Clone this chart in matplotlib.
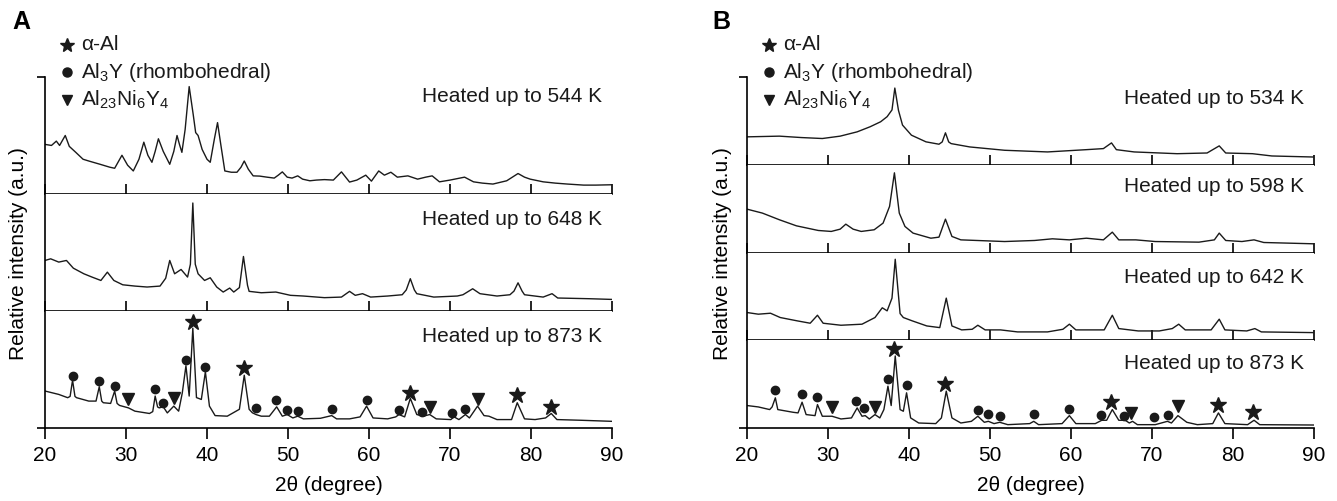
import matplotlib
matplotlib.use('Agg')
import matplotlib.pyplot as plt
from matplotlib.lines import Line2D
import numpy as np

plt.rcParams['font.family'] = ['Liberation Sans', 'DejaVu Sans']
plt.rcParams['mathtext.fontset'] = 'custom'
plt.rcParams['mathtext.rm'] = 'Liberation Sans'
plt.rcParams['mathtext.it'] = 'Liberation Sans:italic'

# ---- data: (2theta, relative intensity in % of panel height)
a544 = np.array([(20.0, 42.4), (20.8, 41.5), (21.4, 45.2), (21.8, 41.5), (22.5, 50.0), (23.0, 40.7),
                 (23.8, 35.6), (24.7, 29.7), (25.5, 28.0), (26.8, 25.4), (28.0, 22.9), (28.6, 22.0),
                 (29.5, 33.1), (30.2, 24.6), (30.9, 19.7), (31.6, 29.7), (32.2, 44.3), (32.7, 33.1),
                 (33.2, 27.1), (33.6, 36.4), (34.0, 47.2), (34.6, 36.4), (35.4, 25.4), (35.9, 36.4),
                 (36.3, 50.0), (36.6, 42.4), (36.9, 35.6), (37.3, 55.1), (37.8, 91.8), (38.3, 67.8),
                 (38.6, 52.5), (38.9, 50.0), (39.4, 38.1), (40.0, 29.7), (40.4, 27.1), (40.9, 46.6),
                 (41.3, 61.0), (41.7, 42.4), (42.2, 19.7), (43.0, 18.6), (43.7, 18.6), (44.2, 22.9),
                 (44.6, 28.2), (45.1, 21.2), (45.7, 15.5), (46.5, 15.3), (47.4, 14.4), (48.3, 13.6),
                 (48.8, 16.1), (49.3, 18.9), (49.9, 14.4), (50.5, 13.6), (51.2, 15.5), (51.8, 12.7),
                 (52.7, 11.3), (53.5, 11.9), (54.5, 12.3), (55.6, 11.9), (56.6, 18.9), (57.6, 10.2),
                 (58.5, 11.9), (59.6, 16.1), (60.3, 11.0), (61.2, 19.7), (61.9, 16.1), (62.7, 18.6),
                 (63.5, 14.4), (64.8, 15.5), (66.0, 12.7), (67.0, 14.4), (67.8, 15.5), (68.7, 10.4),
                 (70.0, 11.9), (71.8, 14.4), (72.9, 10.4), (74.0, 9.3), (75.3, 8.5), (77.0, 11.3),
                 (78.4, 17.5), (79.2, 14.4), (79.9, 12.7), (81.5, 10.4), (83.0, 9.3), (84.5, 8.5),
                 (86.5, 7.6), (88.0, 7.6), (90.0, 7.9)])

a648 = np.array([(20.0, 43.2), (20.7, 44.6), (21.7, 41.8), (22.65, 43.2), (23.5, 36.6), (24.8, 31.8),
                 (25.8, 29.0), (26.9, 26.1), (27.7, 33.2), (28.5, 26.1), (29.6, 22.4), (31.1, 21.3),
                 (32.6, 20.5), (34.2, 21.3), (34.9, 28.0), (35.4, 43.2), (36.0, 31.8), (36.8, 35.5),
                 (37.6, 29.0), (37.95, 40.0), (38.25, 92.3), (38.55, 40.0), (38.9, 31.8), (39.7, 26.1),
                 (40.4, 28.4), (41.2, 20.5), (42.0, 16.2), (42.8, 19.6), (43.3, 16.2), (44.0, 20.0),
                 (44.5, 46.6), (45.0, 22.0), (45.2, 16.8), (46.7, 15.6), (48.5, 16.2), (50.3, 13.4),
                 (51.9, 12.8), (54.5, 11.4), (56.6, 11.9), (57.6, 16.8), (58.3, 13.4), (59.2, 14.8),
                 (60.2, 11.9), (62.3, 12.8), (64.1, 13.9), (64.6, 18.0), (65.1, 27.6), (65.6, 18.0),
                 (65.9, 14.8), (68.0, 11.9), (70.9, 12.8), (71.6, 13.9), (72.8, 19.0), (73.7, 14.8),
                 (75.8, 12.8), (77.4, 13.9), (77.9, 17.0), (78.4, 24.1), (78.9, 17.0), (79.2, 13.9),
                 (81.5, 11.9), (82.6, 14.8), (83.3, 11.1), (87.2, 10.5), (90.0, 9.9)])

a873 = np.array([(20.0, 31.6), (21.7, 28.7), (22.8, 25.9), (23.1, 27.0), (23.4, 40.8), (23.7, 27.0),
                 (23.9, 25.9), (25.4, 23.0), (26.3, 23.0), (26.7, 35.3), (27.0, 23.0), (27.2, 21.6),
                 (28.1, 21.0), (28.6, 31.6), (28.9, 21.0), (29.2, 19.3), (30.3, 17.2), (31.1, 14.4),
                 (32.9, 12.4), (33.3, 14.0), (33.6, 27.3), (33.9, 18.0), (34.1, 17.2), (34.6, 18.1),
                 (35.1, 12.9), (35.9, 18.7), (36.5, 14.4), (36.95, 30.0), (37.4, 53.2), (37.8, 27.3),
                 (38.25, 85.3), (38.7, 26.0), (39.3, 24.4), (39.8, 48.0), (40.3, 18.7), (41.0, 10.6),
                 (42.5, 10.1), (44.0, 16.0), (44.6, 45.1), (45.2, 16.0), (45.6, 13.0), (46.05, 11.5),
                 (46.7, 10.1), (47.7, 10.1), (48.6, 18.1), (49.3, 10.1), (49.9, 11.5), (50.6, 8.6),
                 (51.2, 10.1), (51.9, 7.8), (54.0, 8.3), (55.4, 10.6), (56.0, 7.8), (57.6, 7.8),
                 (58.9, 9.5), (59.7, 18.7), (60.5, 8.6), (62.3, 7.8), (63.3, 9.5), (63.7, 11.5),
                 (64.4, 9.5), (65.1, 25.3), (65.9, 11.5), (66.7, 10.1), (67.5, 11.5), (68.3, 7.8),
                 (70.1, 7.2), (70.5, 9.5), (71.1, 7.2), (71.9, 11.5), (72.4, 8.6), (73.4, 18.7),
                 (74.2, 10.6), (74.8, 10.1), (75.8, 7.2), (77.6, 7.2), (78.3, 21.6), (79.2, 7.8),
                 (80.5, 7.2), (81.8, 8.6), (82.5, 12.4), (83.2, 7.2), (86.2, 6.6), (90.0, 5.7)])

b534 = np.array([(20.0, 31.8), (24.0, 32.6), (26.7, 31.0), (29.3, 29.9), (31.5, 32.6), (33.6, 37.5),
                 (35.2, 43.3), (36.5, 49.0), (37.3, 54.8), (37.9, 62.5), (38.25, 87.4), (38.7, 62.0),
                 (39.2, 45.2), (40.3, 33.7), (42.1, 26.1), (43.7, 23.4), (44.1, 26.0), (44.5, 36.4),
                 (44.9, 26.0), (45.2, 24.1), (47.5, 20.3), (51.8, 16.5), (57.1, 14.6), (61.9, 17.2),
                 (64.0, 18.4), (65.0, 24.9), (65.6, 17.2), (67.8, 14.6), (73.1, 12.6), (76.8, 13.4),
                 (78.3, 21.5), (79.1, 13.4), (82.4, 12.6), (84.8, 10.0), (90.0, 8.8)])

b598 = np.array([(20.0, 49.4), (21.9, 44.9), (24.0, 37.3), (26.1, 30.4), (28.8, 25.1), (30.4, 24.0),
                 (31.5, 26.6), (32.2, 32.3), (33.1, 26.6), (34.1, 24.0), (35.7, 25.9), (36.8, 33.5),
                 (37.6, 52.5), (38.2, 90.8), (38.8, 44.9), (39.5, 29.7), (40.5, 22.1), (42.7, 16.3),
                 (43.7, 17.5), (44.5, 38.0), (45.3, 18.3), (46.4, 14.4), (51.8, 12.5), (55.5, 13.7),
                 (57.7, 15.6), (59.8, 14.4), (61.9, 16.3), (64.0, 14.4), (65.1, 23.2), (65.9, 14.4),
                 (68.0, 14.4), (70.4, 12.5), (75.8, 11.8), (77.7, 14.4), (78.3, 22.1), (79.1, 13.7),
                 (81.1, 12.5), (82.6, 14.4), (83.8, 11.4), (90.0, 9.9)])

b642 = np.array([(20.0, 31.6), (21.4, 29.7), (22.9, 30.8), (24.1, 25.9), (26.2, 22.1), (27.8, 19.4),
                 (28.7, 28.5), (29.4, 19.4), (31.6, 17.1), (34.2, 18.3), (35.8, 25.9), (36.7, 37.0),
                 (37.3, 33.5), (37.9, 48.0), (38.3, 92.3), (38.9, 30.4), (39.3, 25.9), (40.4, 22.1),
                 (42.2, 16.3), (43.8, 14.4), (44.6, 48.0), (45.3, 16.3), (46.5, 11.8), (47.8, 12.5),
                 (48.5, 17.1), (49.4, 11.8), (51.3, 11.8), (53.4, 9.5), (57.1, 9.5), (59.0, 12.5),
                 (59.8, 18.3), (60.6, 11.8), (64.1, 11.8), (65.1, 28.5), (65.9, 13.3), (68.3, 10.6),
                 (70.9, 10.6), (72.5, 13.3), (73.3, 18.3), (74.1, 11.8), (77.3, 11.8), (78.3, 24.0),
                 (79.0, 11.8), (81.7, 10.6), (82.7, 13.3), (83.5, 9.5), (90.0, 8.7)])

b873 = np.array([(20.0, 25.6), (21.4, 24.0), (22.8, 21.0), (23.1, 24.0), (23.5, 34.4), (23.8, 21.0),
                 (25.7, 17.9), (26.3, 17.2), (26.8, 29.4), (27.3, 15.3), (28.4, 14.1), (28.7, 26.7),
                 (29.3, 13.4), (30.5, 13.4), (31.6, 10.3), (32.9, 11.5), (33.6, 22.9), (34.2, 13.4),
                 (34.6, 14.1), (35.1, 10.3), (35.8, 15.3), (36.4, 11.5), (36.9, 21.0), (37.4, 47.7),
                 (37.8, 25.6), (38.3, 82.1), (38.9, 21.0), (39.3, 19.1), (39.7, 40.1), (40.2, 11.5),
                 (41.2, 5.7), (43.3, 5.0), (44.0, 11.5), (44.6, 42.0), (45.3, 11.5), (46.4, 5.7),
                 (47.7, 7.6), (48.5, 13.4), (49.3, 6.5), (49.8, 7.6), (50.5, 5.0), (51.2, 6.5),
                 (52.2, 3.8), (54.9, 5.0), (55.4, 7.6), (56.0, 3.8), (58.9, 5.0), (59.8, 14.1),
                 (60.6, 5.0), (63.0, 5.0), (63.8, 8.8), (64.4, 8.8), (65.1, 21.0), (65.9, 8.8),
                 (66.7, 8.8), (67.2, 5.7), (67.6, 7.6), (68.2, 3.8), (70.4, 3.8), (71.9, 7.6),
                 (72.4, 5.7), (73.2, 14.1), (74.3, 6.5), (75.6, 3.8), (77.5, 5.0), (78.2, 17.2),
                 (79.0, 5.0), (81.8, 3.8), (82.6, 8.8), (83.3, 3.8), (90.0, 3.4)])

# phase markers on the 873 K patterns (2theta, height of symbol)
a_alpha = np.array([(38.3, 90.5), (44.6, 51.1), (65.1, 30.2), (78.3, 27.9), (82.5, 18.1)])
a_al3y = np.array([(23.4, 44.5), (26.7, 40.2), (28.6, 35.9), (33.6, 33.0), (34.6, 21.6), (37.4, 58.0),
                   (39.8, 52.3), (46.05, 17.2), (48.5, 23.6), (49.9, 15.8), (51.2, 14.4), (55.4, 16.4),
                   (59.7, 23.6), (63.7, 15.2), (66.6, 13.8), (70.3, 12.9), (71.9, 16.4)])
a_ni = np.array([(30.3, 24.4), (35.9, 25.9), (67.5, 18.1), (73.4, 25.0)])

b_alpha = np.array([(38.2, 89.7), (44.5, 49.6), (64.9, 29.4), (78.2, 26.7), (82.5, 17.9)])
b_al3y = np.array([(23.4, 43.1), (26.8, 38.2), (28.7, 35.5), (33.4, 31.3), (34.4, 22.9), (37.4, 55.3),
                   (39.7, 48.9), (48.5, 20.2), (49.7, 16.4), (51.2, 14.1), (55.4, 16.4), (59.7, 22.1),
                   (63.7, 14.5), (66.5, 13.4), (70.2, 12.6), (72.0, 15.3)])
b_ni = np.array([(30.5, 24.0), (35.8, 24.0), (67.4, 17.2), (73.2, 25.6)])

a_temps = ['544', '648', '873']
b_temps = ['534', '598', '642', '873']

W, H = 1337, 501
fig = plt.figure(figsize=(W / 100, H / 100), dpi=100)
LC = '#1a1a1a'


def panel(left_px, traces, temps, marks, text_y):
    top_px, bot_px, width_px = 77, 428, 567
    n = len(traces)
    h = (bot_px - top_px) / n
    axs = []
    for k, (d, t) in enumerate(zip(traces, temps)):
        y0 = top_px + (k + 1) * h
        ax = fig.add_axes([left_px / W, 1 - y0 / H, width_px / W, h / H])
        ax.plot(d[:, 0], d[:, 1], color=LC, lw=1.0)
        ax.set_xlim(20, 90)
        ax.set_ylim(0, 100)
        for s in ['top', 'right']:
            ax.spines[s].set_visible(False)
        for s in ['left', 'bottom']:
            ax.spines[s].set_linewidth(1.2)
        ax.set_xticks(np.arange(20, 91, 10))
        ax.text(0.982, text_y[k], 'Heated up to %s K' % t, transform=ax.transAxes,
                ha='right', va='center', fontsize=15, color=LC)
        last = (k == n - 1)
        if last:
            ax.tick_params(axis='x', direction='out', length=8, width=1.2, labelsize=15, pad=5)
            ax.set_xlabel('2\u03b8 (degree)', fontsize=15, labelpad=8)
            ax.set_yticks([0])
        else:
            ax.tick_params(axis='x', direction='in', length=7, width=1.2, labelbottom=False)
            ax.set_yticks([100] if k == 0 else [])
        ax.tick_params(axis='y', direction='out', length=6, width=1.2, labelleft=False)
        axs.append(ax)
    ax = axs[-1]
    alpha, al3y, ni = marks
    ax.plot(al3y[:, 0], al3y[:, 1], 'o', color=LC, ms=6, ls='none', clip_on=False)
    ax.plot(ni[:, 0], ni[:, 1], 'v', color=LC, ms=8, ls='none', clip_on=False)
    ax.plot(alpha[:, 0], alpha[:, 1], '*', color=LC, ms=12, ls='none', clip_on=False)

    # legend block
    rows = [('*', 10, '\u03b1-Al'),
            ('o', 6.5, 'Al$_{3}$Y (rhombohedral)'),
            ('v', 7.5, 'Al$_{23}$Ni$_{6}$Y$_{4}$')]
    for r, (m, ms, lab) in enumerate(rows):
        yy = 1 - (45 + 27.5 * r) / H
        fig.add_artist(Line2D([(left_px + 22) / W], [yy], marker=m, ms=ms, color=LC,
                              ls='none', transform=fig.transFigure))
        fig.text((left_px + 36) / W, yy, lab, fontsize=15, va='center', ha='left', color=LC)
    return axs


panel(45, [a544, a648, a873], a_temps, (a_alpha, a_al3y, a_ni), [0.83, 0.78, 0.78])
panel(747, [b534, b598, b642, b873], b_temps, (b_alpha, b_al3y, b_ni), [0.76, 0.75, 0.72, 0.74])

fig.text(12 / W, 1 - 22 / H, 'A', fontsize=18, fontweight='bold', va='center', ha='left')
fig.text(712 / W, 1 - 22 / H, 'B', fontsize=18, fontweight='bold', va='center', ha='left')
fig.text(19 / W, 1 - 254 / H, 'Relative intensity (a.u.)', rotation=90, fontsize=15,
         ha='center', va='center')
fig.text(722 / W, 1 - 254 / H, 'Relative intensity (a.u.)', rotation=90, fontsize=15,
         ha='center', va='center')

fig.savefig('out.png', dpi=100)
